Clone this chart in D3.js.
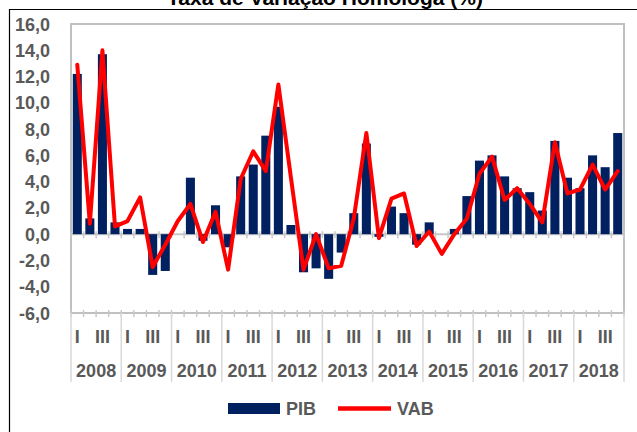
<!DOCTYPE html>
<html>
<head>
<meta charset="utf-8">
<script src="https://cdn.jsdelivr.net/npm/d3@7"></script>
<style>
  body { margin: 0; background: #fff; }
  text { font-family: "Liberation Sans", Arial, sans-serif; font-weight: bold; }
</style>
</head>
<body>
<svg id="chart" width="637" height="432"></svg>
<script>
const years = ['2008', '2009', '2010', '2011', '2012', '2013', '2014', '2015', '2016', '2017', '2018'];
const quarterLabels = ['I', '', 'III', ''];
const pib = [12.2, 1.2, 13.7, 0.9, 0.4, 0.4, -3.1, -2.8, 0.0, 4.3, -0.5, 2.2,
  -1.0, 4.4, 5.3, 7.5, 9.7, 0.7, -2.9, -2.6, -3.4, -1.4, 1.6, 6.9,
  -0.2, 2.1, 1.6, -0.8, 0.9, 0.0, 0.4, 2.9, 5.6, 6.0, 4.4, 3.5,
  3.2, 1.8, 7.1, 4.3, 3.5, 6.0, 5.1, 7.7];
const vab = [12.9, 0.8, 14.0, 0.6, 1.0, 2.8, -2.5, -0.8, 1.0, 2.3, -0.6, 1.7,
  -2.7, 4.2, 6.3, 4.8, 11.4, 4.3, -2.7, 0.0, -2.6, -2.4, 1.2, 7.7,
  -0.3, 2.7, 3.1, -0.9, 0.2, -1.5, 0.0, 1.2, 4.6, 5.9, 2.6, 3.5,
  2.3, 0.9, 7.0, 3.1, 3.4, 5.3, 3.4, 4.8];
const yTicks = [-6, -4, -2, 0, 2, 4, 6, 8, 10, 12, 14, 16];

const svg = d3.select('#chart');
const plotLeft = 71, plotRight = 624, plotTop = 24, plotBottom = 313;
const grey = '#595959';

const locale = d3.formatLocale({ decimal: ',', thousands: '.', grouping: [3], currency: ['', ''], minus: '-' });
const fmt = locale.format('.1f');

let x = d3.scaleBand().domain(d3.range(pib.length)).range([plotLeft, plotRight]).paddingInner(0.28).paddingOuter(0.14);
let xYear = d3.scaleBand().domain(years).range([plotLeft, plotRight]);
let y = d3.scaleLinear().domain([-6, 16]).range([plotBottom, plotTop]);
let bounds = d3.range(pib.length + 1).map((i) => plotLeft + i * x.step());

// outer frame (only top/left visible)
svg.append('path').attr('d', 'M9.5,432V9.5H637').attr('fill', 'none').attr('stroke', '#000').attr('stroke-width', 1.2);

// title
svg.append('text').attr('x', 325).attr('y', 5).attr('text-anchor', 'middle')
  .attr('font-size', 21).attr('fill', '#000').text('Taxa de Variação Homóloga (%)');

// plot area border
svg.append('rect').attr('x', plotLeft).attr('y', plotTop).attr('width', plotRight - plotLeft).attr('height', plotBottom - plotTop)
  .attr('fill', '#fff').attr('stroke', '#c0c0c0').attr('stroke-width', 2);

// y labels
svg.selectAll('.ylab').data(yTicks).join('text')
  .attr('x', 50).attr('y', (d) => y(d) + 6.5).attr('text-anchor', 'end')
  .attr('font-size', 18).attr('fill', grey).text((d) => fmt(d));

// zero line + ticks
svg.append('line').attr('x1', plotLeft).attr('x2', plotRight).attr('y1', y(0)).attr('y2', y(0))
  .attr('stroke', '#c8c8c8').attr('stroke-width', 2);
svg.selectAll('.zt').data(bounds).join('line')
  .attr('x1', (d) => d).attr('x2', (d) => d).attr('y1', y(0) - 3).attr('y2', y(0) + 4)
  .attr('stroke', '#c8c8c8').attr('stroke-width', 1.5);

// bottom ticks
svg.selectAll('.bt').data(bounds).join('line')
  .attr('x1', (d) => d).attr('x2', (d) => d).attr('y1', plotBottom - 3).attr('y2', plotBottom + 4)
  .attr('stroke', '#c8c8c8').attr('stroke-width', 1.5);

// year separators
let yearBounds = years.map((d) => xYear(d)).concat([plotRight]);
svg.selectAll('.ys').data(yearBounds).join('line')
  .attr('x1', (d) => d).attr('x2', (d) => d).attr('y1', plotBottom).attr('y2', 382)
  .attr('stroke', '#d9d9d9').attr('stroke-width', 1.5);

// quarter labels
svg.selectAll('.ql').data(pib.map((_, i) => i)).join('text')
  .attr('x', (i) => x(i) + x.bandwidth() / 2).attr('y', 342.5).attr('text-anchor', 'middle')
  .attr('font-size', 18).attr('fill', grey).text((i) => quarterLabels[i % 4]);

// year labels
svg.selectAll('.yl').data(years).join('text')
  .attr('x', (d) => xYear(d) + xYear.bandwidth() / 2).attr('y', 376.5).attr('text-anchor', 'middle')
  .attr('font-size', 18).attr('fill', grey).text((d) => d);

// bars
svg.selectAll('.bar').data(pib).join('rect')
  .attr('x', (d, i) => x(i)).attr('width', x.bandwidth())
  .attr('y', (d) => y(Math.max(0, d))).attr('height', (d) => Math.abs(y(d) - y(0)))
  .attr('fill', '#002060');

// line
let line = d3.line().x((d, i) => x(i) + x.bandwidth() / 2).y((d) => y(d));
svg.append('path').datum(vab).attr('d', line).attr('fill', 'none')
  .attr('stroke', '#ff0000').attr('stroke-width', 4).attr('stroke-linejoin', 'round').attr('stroke-linecap', 'round');

// legend
svg.append('rect').attr('x', 228).attr('y', 403).attr('width', 52).attr('height', 11).attr('fill', '#002060');
svg.append('text').attr('x', 286).attr('y', 415).attr('font-size', 18).attr('fill', grey).text('PIB');
svg.append('line').attr('x1', 338).attr('x2', 391).attr('y1', 408.5).attr('y2', 408.5)
  .attr('stroke', '#ff0000').attr('stroke-width', 4.5);
svg.append('text').attr('x', 397).attr('y', 415).attr('font-size', 18).attr('fill', grey).text('VAB');
</script>
</body>
</html>
